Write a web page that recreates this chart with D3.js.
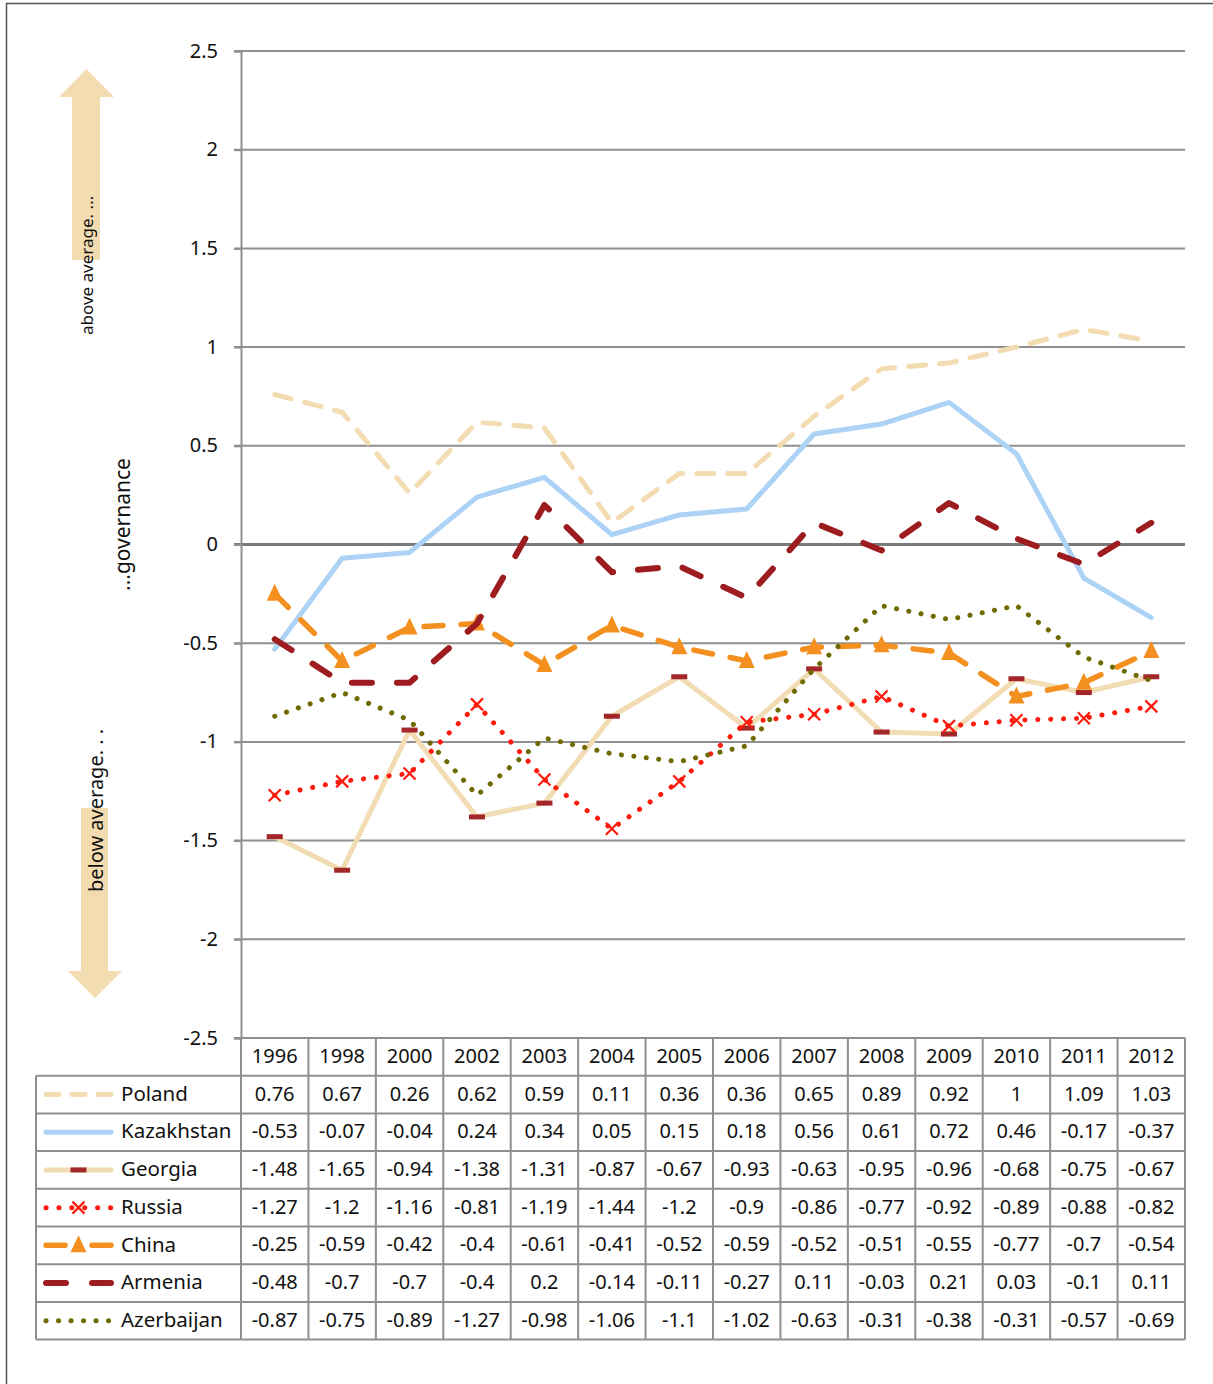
<!DOCTYPE html>
<html>
<head>
<meta charset="utf-8">
<script src="https://cdn.jsdelivr.net/npm/d3@7"></script>
<style>
  body { margin: 0; background: #fff; }
  svg { font-family: "Noto Sans", sans-serif; }
</style>
</head>
<body>
<div id="chart"></div>
<script>
const years = ["1996","1998","2000","2002","2003","2004","2005","2006","2007","2008","2009","2010","2011","2012"];
const poland = [0.76,0.67,0.26,0.62,0.59,0.11,0.36,0.36,0.65,0.89,0.92,1,1.09,1.03];
const kazakhstan = [-0.53,-0.07,-0.04,0.24,0.34,0.05,0.15,0.18,0.56,0.61,0.72,0.46,-0.17,-0.37];
const georgia = [-1.48,-1.65,-0.94,-1.38,-1.31,-0.87,-0.67,-0.93,-0.63,-0.95,-0.96,-0.68,-0.75,-0.67];
const russia = [-1.27,-1.2,-1.16,-0.81,-1.19,-1.44,-1.2,-0.9,-0.86,-0.77,-0.92,-0.89,-0.88,-0.82];
const china = [-0.25,-0.59,-0.42,-0.4,-0.61,-0.41,-0.52,-0.59,-0.52,-0.51,-0.55,-0.77,-0.7,-0.54];
const armenia = [-0.48,-0.7,-0.7,-0.4,0.2,-0.14,-0.11,-0.27,0.11,-0.03,0.21,0.03,-0.1,0.11];
const azerbaijan = [-0.87,-0.75,-0.89,-1.27,-0.98,-1.06,-1.1,-1.02,-0.63,-0.31,-0.38,-0.31,-0.57,-0.69];
const yTicks = [2.5,2,1.5,1,0.5,0,-0.5,-1,-1.5,-2,-2.5];

const series = [
  {name: "Poland", values: poland, color: "#f3dcb2", width: 5, dash: "17,14", marker: null},
  {name: "Kazakhstan", values: kazakhstan, color: "#acd3f5", width: 5, dash: null, marker: null},
  {name: "Georgia", values: georgia, color: "#f2dcb3", width: 5, dash: null, marker: "bar"},
  {name: "Russia", values: russia, color: "#ff1a0d", width: 5, dash: "0.1,12.8", marker: "x"},
  {name: "China", values: china, color: "#f39020", width: 5.5, dash: "19,18", marker: "tri"},
  {name: "Armenia", values: armenia, color: "#9d1c1f", width: 6, dash: "20,25", marker: null},
  {name: "Azerbaijan", values: azerbaijan, color: "#6e6a00", width: 5, dash: "0.1,12.4", marker: null}
];

const W = 1213, H = 1384;
const plotLeft = 241, plotRight = 1185, plotTop = 51, plotBottom = 1038;
const rowH = 37.7, tableLeft = 36;

const svg = d3.select("#chart").append("svg").attr("width", W).attr("height", H);

// outer frame
svg.append("path").attr("d", `M6.5,${H} V3.5 H${W}`)
  .attr("fill", "none").attr("stroke", "#555").attr("stroke-width", 1.5);

const x = d3.scaleBand().domain(years).range([plotLeft, plotRight]);
const y = d3.scaleLinear().domain([-2.5, 2.5]).range([plotBottom, plotTop]);
const cx = d => x(d) + x.bandwidth() / 2;

// gridlines
svg.append("g").selectAll("line").data(yTicks).join("line")
  .attr("x1", plotLeft - 7).attr("x2", plotRight)
  .attr("y1", d => y(d)).attr("y2", d => y(d))
  .attr("stroke", d => d === 0 ? "#7a7a7a" : "#8f8f8f")
  .attr("stroke-width", d => d === 0 ? 3 : 2);

// y axis
const yAxis = svg.append("g").attr("transform", `translate(${plotLeft},0)`)
  .call(d3.axisLeft(y).tickValues(yTicks).tickSize(7).tickPadding(16).tickFormat(d => String(d)));
yAxis.select(".domain").attr("stroke", "#8f8f8f").attr("stroke-width", 2);
yAxis.selectAll(".tick line").attr("stroke", "#8f8f8f").attr("stroke-width", 2);
yAxis.selectAll(".tick text").attr("font-size", 20).attr("fill", "#111")
  .attr("font-family", "Noto Sans, sans-serif").attr("dy", "0.3em");

// side arrows
const wheat = "#f3dcb0";
svg.append("path").attr("d", "M72,260 V97 H59 L86.5,69 L114,97 H100 V260 Z").attr("fill", wheat);
svg.append("path").attr("d", "M81,808 V971 H68 L95,998 L122,971 H108 V808 Z").attr("fill", wheat);

svg.append("text").attr("transform", "translate(93,335) rotate(-90)")
  .attr("font-size", 17).attr("fill", "#111").text("above average. ...");
svg.append("text").attr("transform", "translate(103,892) rotate(-90)")
  .attr("font-size", 20).attr("fill", "#111").text("below average. . .");
svg.append("text").attr("transform", "translate(130,591) rotate(-90)")
  .attr("font-size", 21).attr("fill", "#111").text("...governance");

// lines
const line = d3.line().x((d, i) => cx(years[i])).y(d => y(d));
const plot = svg.append("g");

function drawMarker(g, type, px, py, color) {
  if (type === "bar") {
    g.append("rect").attr("x", px - 8).attr("y", py - 2.5).attr("width", 16).attr("height", 5)
      .attr("fill", "#a3262a");
  } else if (type === "x") {
    const s = 6;
    g.append("path").attr("d", `M${px - s},${py - s} L${px + s},${py + s} M${px - s},${py + s} L${px + s},${py - s}`)
      .attr("stroke", color).attr("stroke-width", 2.2).attr("fill", "none");
  } else if (type === "tri") {
    g.append("path").attr("d", `M${px},${py - 10} L${px + 8},${py + 7} L${px - 8},${py + 7} Z`)
      .attr("fill", color);
  }
}

series.forEach(s => {
  const g = plot.append("g");
  g.append("path").datum(s.values).attr("d", line)
    .attr("fill", "none").attr("stroke", s.color).attr("stroke-width", s.width)
    .attr("stroke-linecap", "round").attr("stroke-linejoin", "round")
    .attr("stroke-dasharray", s.dash);
  if (s.marker) {
    s.values.forEach((v, i) => drawMarker(g, s.marker, cx(years[i]), y(v), s.color));
  }
});

// data table
const tbl = svg.append("g");
const gridColor = "#8f8f8f";
const rowsTop = plotBottom + rowH;
const tableBottom = rowsTop + rowH * series.length;

tbl.append("line").attr("x1", plotLeft).attr("x2", plotRight).attr("y1", plotBottom).attr("y2", plotBottom)
  .attr("stroke", gridColor).attr("stroke-width", 2);
d3.range(series.length + 1).forEach(i => {
  const yy = rowsTop + i * rowH;
  tbl.append("line").attr("x1", tableLeft).attr("x2", plotRight).attr("y1", yy).attr("y2", yy)
    .attr("stroke", gridColor).attr("stroke-width", 2);
});
tbl.append("line").attr("x1", tableLeft).attr("x2", tableLeft).attr("y1", rowsTop).attr("y2", tableBottom)
  .attr("stroke", gridColor).attr("stroke-width", 2);
d3.range(years.length + 1).forEach(i => {
  const xx = plotLeft + i * x.bandwidth();
  tbl.append("line").attr("x1", xx).attr("x2", xx).attr("y1", plotBottom).attr("y2", tableBottom)
    .attr("stroke", gridColor).attr("stroke-width", 2);
});

// header
tbl.selectAll("text.yr").data(years).join("text").attr("class", "yr")
  .attr("x", d => cx(d)).attr("y", plotBottom + rowH / 2).attr("dy", "0.33em")
  .attr("text-anchor", "middle").attr("font-size", 20).attr("fill", "#111").text(d => d);

series.forEach((s, r) => {
  const yy = rowsTop + r * rowH + rowH / 2;
  // legend key
  const kg = tbl.append("g");
  kg.append("line").attr("x1", 46).attr("x2", 111).attr("y1", yy).attr("y2", yy)
    .attr("stroke", s.color).attr("stroke-width", s.width)
    .attr("stroke-linecap", "round")
    .attr("stroke-dasharray", s.name === "Poland" ? "13,13" : s.name === "Armenia" ? "20,26"
      : s.name === "China" ? "19,27" : s.dash);
  if (s.marker) drawMarker(kg, s.marker, 78.5, yy, s.color);
  tbl.append("text").attr("x", 121).attr("y", yy).attr("dy", "0.3em")
    .attr("font-size", 20.5).attr("fill", "#111").text(s.name);
  s.values.forEach((v, i) => {
    tbl.append("text").attr("x", cx(years[i])).attr("y", yy).attr("dy", "0.3em")
      .attr("text-anchor", "middle").attr("font-size", 20).attr("fill", "#111").text(String(v));
  });
});
</script>
</body>
</html>
